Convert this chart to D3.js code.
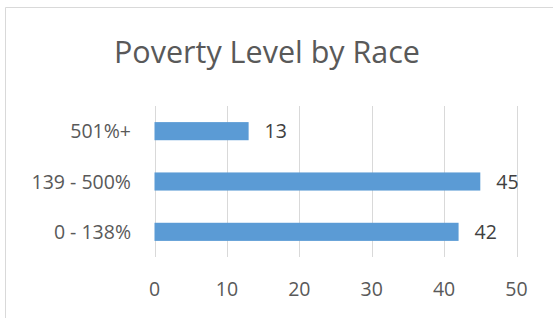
<!DOCTYPE html>
<html>
<head>
<meta charset="utf-8">
<script src="https://cdn.jsdelivr.net/npm/d3@7"></script>
<style>
  html, body { margin: 0; padding: 0; background: #fff; }
  svg { display: block; font-family: 'Open Sans', 'Noto Sans', sans-serif; }
</style>
</head>
<body>
<div id="chart"></div>
<script>
'use strict';

var categories = ['501%+', '139 - 500%', '0 - 138%'];
var values = [13, 45, 42];
var xTicks = [0, 10, 20, 30, 40, 50];
var title = 'Poverty Level by Race';

var width = 553,
    height = 318;

var svg = d3.select('#chart').append('svg')
    .attr('width', width)
    .attr('height', height);

// chart area border (only top and left visible in the crop)
svg.append('path')
    .attr('d', 'M 5.5 ' + height + ' L 5.5 7.5 L ' + width + ' 7.5')
    .attr('fill', 'none')
    .attr('stroke', '#d9d9d9')
    .attr('stroke-width', 1);

svg.append('text')
    .attr('x', 267)
    .attr('y', 63)
    .attr('text-anchor', 'middle')
    .attr('font-size', '30.5px')
    .attr('fill', '#595959')
    .text(title);

var x = d3.scaleLinear()
    .domain([0, 50])
    .range([154.5, 516.5]);

var y = d3.scaleBand()
    .domain(categories)
    .range([106, 257])
    .paddingInner(0.64)
    .paddingOuter(0.32);

var grid = svg.append('g').attr('id', 'grid-layer');
grid.selectAll('line')
    .data(xTicks)
    .enter().append('line')
        .attr('x1', function(d) { return Math.round(x(d)) + 0.5; })
        .attr('x2', function(d) { return Math.round(x(d)) + 0.5; })
        .attr('y1', 106)
        .attr('y2', 257)
        .attr('stroke', '#d9d9d9')
        .attr('stroke-width', 1);

var bars = svg.append('g').attr('id', 'bars-layer');
bars.selectAll('rect')
    .data(values)
    .enter().append('rect')
        .attr('x', x(0))
        .attr('y', function(d, i) { return y(categories[i]); })
        .attr('width', function(d) { return x(d) - x(0); })
        .attr('height', y.bandwidth())
        .attr('fill', '#5b9bd5');

var labels = svg.append('g').attr('id', 'labels-layer');
labels.selectAll('text')
    .data(values)
    .enter().append('text')
        .attr('x', function(d) { return x(d) + 16; })
        .attr('y', function(d, i) { return y(categories[i]) + y.bandwidth() / 2; })
        .attr('dy', '0.36em')
        .attr('font-size', '19.5px')
        .attr('fill', '#404040')
        .text(function(d) { return d; });

var yAxis = svg.append('g').attr('id', 'y-axis');
yAxis.selectAll('text')
    .data(categories)
    .enter().append('text')
        .attr('x', 131)
        .attr('y', function(d) { return y(d) + y.bandwidth() / 2; })
        .attr('dy', '0.36em')
        .attr('text-anchor', 'end')
        .attr('font-size', '19.5px')
        .attr('fill', '#595959')
        .text(function(d) { return d; });

var xAxis = svg.append('g').attr('id', 'x-axis');
xAxis.selectAll('text')
    .data(xTicks)
    .enter().append('text')
        .attr('x', function(d) { return x(d); })
        .attr('y', 289)
        .attr('dy', '0.36em')
        .attr('text-anchor', 'middle')
        .attr('font-size', '19.5px')
        .attr('fill', '#595959')
        .text(function(d) { return d; });
</script>
</body>
</html>
